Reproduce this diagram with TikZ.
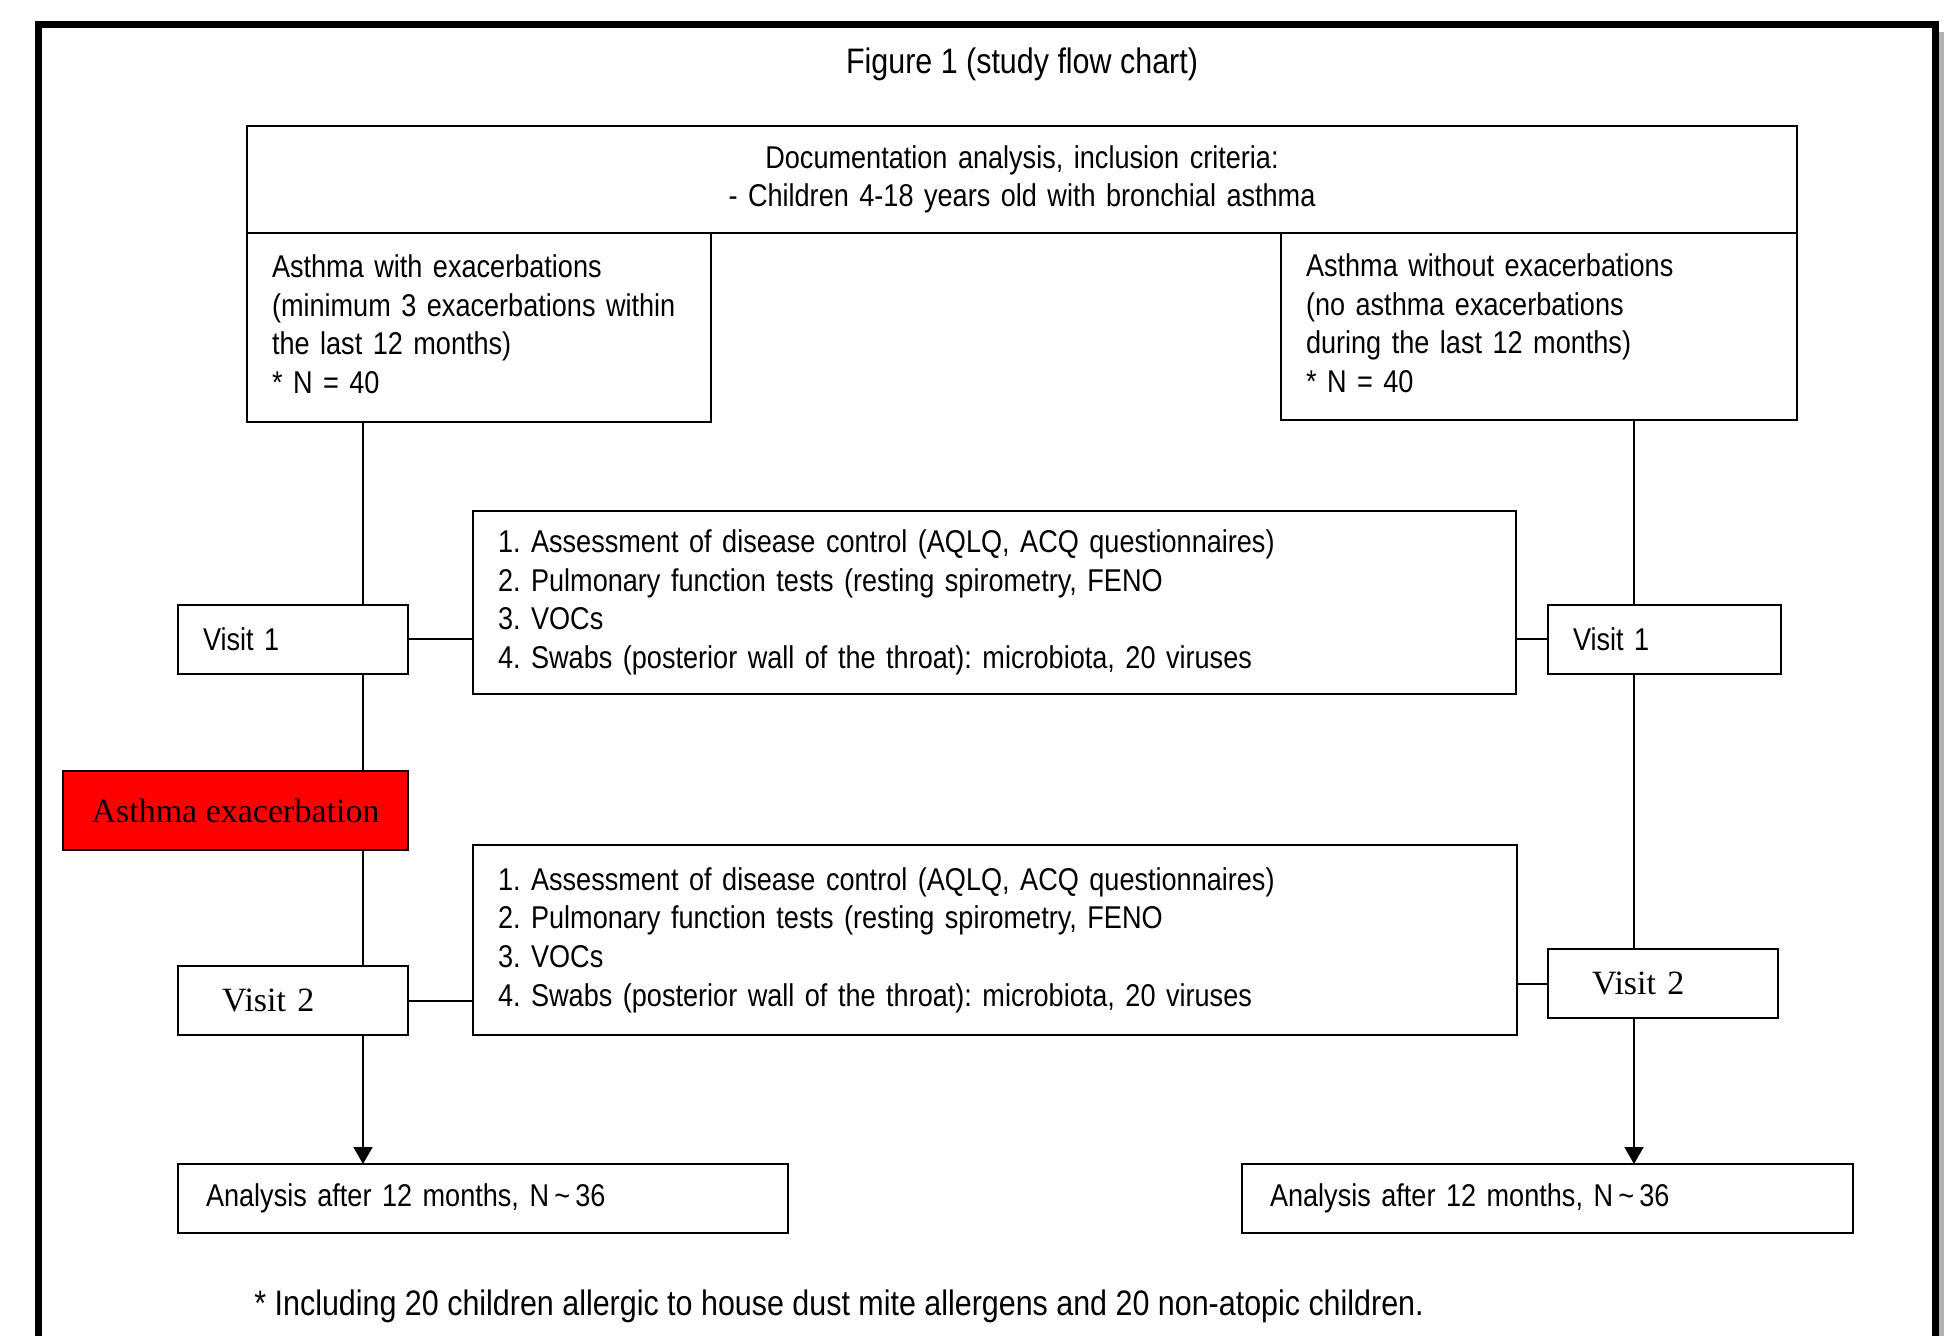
\documentclass[tikz,border=0pt]{standalone}
\usepackage{fontspec}
\setmainfont[FakeStretch=0.86]{Liberation Sans}
\newfontfamily\visitfont{Liberation Serif}
\usetikzlibrary{positioning,arrows.meta}

\begin{document}
\frenchspacing
\begin{tikzpicture}[
    x=0.5pt,y=-0.5pt,
    box/.style={draw,line width=1pt,inner sep=0pt,outer sep=0pt,anchor=north west,
      font=\fontsize{15.75}{19.3}\selectfont},
    listbox/.style={box,inner xsep=12.5pt,align=left},
    visitbox/.style={box,minimum width=115pt,minimum height=34.5pt,align=left},
    serifvisit/.style={visitbox,inner xsep=22pt,text width=71pt,
      font=\visitfont\fontsize{17}{20}\selectfont},
    flow/.style={line width=1pt,-{Triangle[length=8.5pt,width=9.5pt]}}
    ]

   \useasboundingbox (0,0) rectangle (1956,1336);
   \clip (0,0) rectangle (1956,1336);
   \fill[white] (0,0) rectangle (1956,1336);

   % frame, with a thin shadow on its right side
   \draw[line width=3.5pt,black!30] (1940,32) -- (1940,1420);
   \draw[line width=3.5pt] (38.5,24.5) rectangle (1935,1415);

   \node(title) [font=\fontsize{17.7}{21}\selectfont] at (1022,64) {Figure 1 (study flow chart)};

   \node(top) [box,minimum width=775pt,minimum height=53.5pt,text width=750pt,align=center] at (247,126)
     {Documentation analysis, inclusion criteria:\\- Children 4-18 years old with bronchial asthma};

   \node(lwith) [listbox,text width=207pt,minimum height=94.5pt,
     below=0pt of top.south west,anchor=north west]
     {Asthma with exacerbations\\(minimum 3 exacerbations within\\the last 12 months)\\{*} N = 40\\[-16pt]\mbox{}};
   \node(rwithout) [listbox,text width=233pt,minimum height=93.5pt,
     below=0pt of top.south east,anchor=north east]
     {Asthma without exacerbations\\(no asthma exacerbations\\during the last 12 months)\\{*} N = 40\\[-16pt]\mbox{}};

   \node(mid1) [listbox,text width=496.5pt,minimum height=91.5pt] at (473,511)
     {1. Assessment of disease control (AQLQ, ACQ questionnaires)\\2. Pulmonary function tests (resting spirometry, FENO\\3. VOCs\\4. Swabs (posterior wall of the throat): microbiota, 20 viruses};
   \node(mid2) [listbox,text width=497pt,minimum height=95pt] at (473,845)
     {1. Assessment of disease control (AQLQ, ACQ questionnaires)\\2. Pulmonary function tests (resting spirometry, FENO\\3. VOCs\\4. Swabs (posterior wall of the throat): microbiota, 20 viruses};

   \node(v1l) [visitbox,inner xsep=12.5pt,text width=90pt] at (178,605) {Visit 1};
   \node(v1r) [visitbox,inner xsep=12.5pt,text width=91.5pt] at (1548,605) {Visit 1};

   \node(red) [box,fill=red,minimum width=172.5pt,minimum height=39.5pt,
     font=\visitfont\fontsize{17}{20}\selectfont] at (63,771) {Asthma exacerbation};

   \node(v2l) [serifvisit] at (178,966) {Visit 2};
   \node(v2r) [serifvisit] at (1548,949) {Visit 2};

   \node(anl) [listbox,inner xsep=14pt,text width=277pt,minimum height=34.5pt] at (178,1164)
     {Analysis after 12 months, N\,\textasciitilde\,36};
   \node(anr) [listbox,inner xsep=14pt,text width=277.5pt,minimum height=34.5pt] at (1242,1164)
     {Analysis after 12 months, N\,\textasciitilde\,36};

   \node(note) [anchor=west,inner sep=0pt,font=\fontsize{17.7}{21}\selectfont] at (254,1306)
     {* Including 20 children allergic to house dust mite allergens and 20 non-atopic children.};

   \coordinate(lx) at (363,0);
   \coordinate(rx) at (1634,0);

   \foreach \a/\b in {lwith/v1l,v1l/red,red/v2l}
   	\draw[line width=1pt] (\a.south -| lx) -- (\b.north -| lx);
   \draw[flow] (v2l.south -| lx) -- (anl.north -| lx);

   \foreach \a/\b in {rwithout/v1r,v1r/v2r}
   	\draw[line width=1pt] (\a.south -| rx) -- (\b.north -| rx);
   \draw[flow] (v2r.south -| rx) -- (anr.north -| rx);

   \draw[line width=1pt] (v1l.east) -- (mid1.west |- v1l.east);
   \draw[line width=1pt] (mid1.east |- v1r.west) -- (v1r.west);
   \draw[line width=1pt] (v2l.east) -- (mid2.west |- v2l.east);
   \draw[line width=1pt] (mid2.east |- v2r.west) -- (v2r.west);

  \end{tikzpicture}
\end{document}
